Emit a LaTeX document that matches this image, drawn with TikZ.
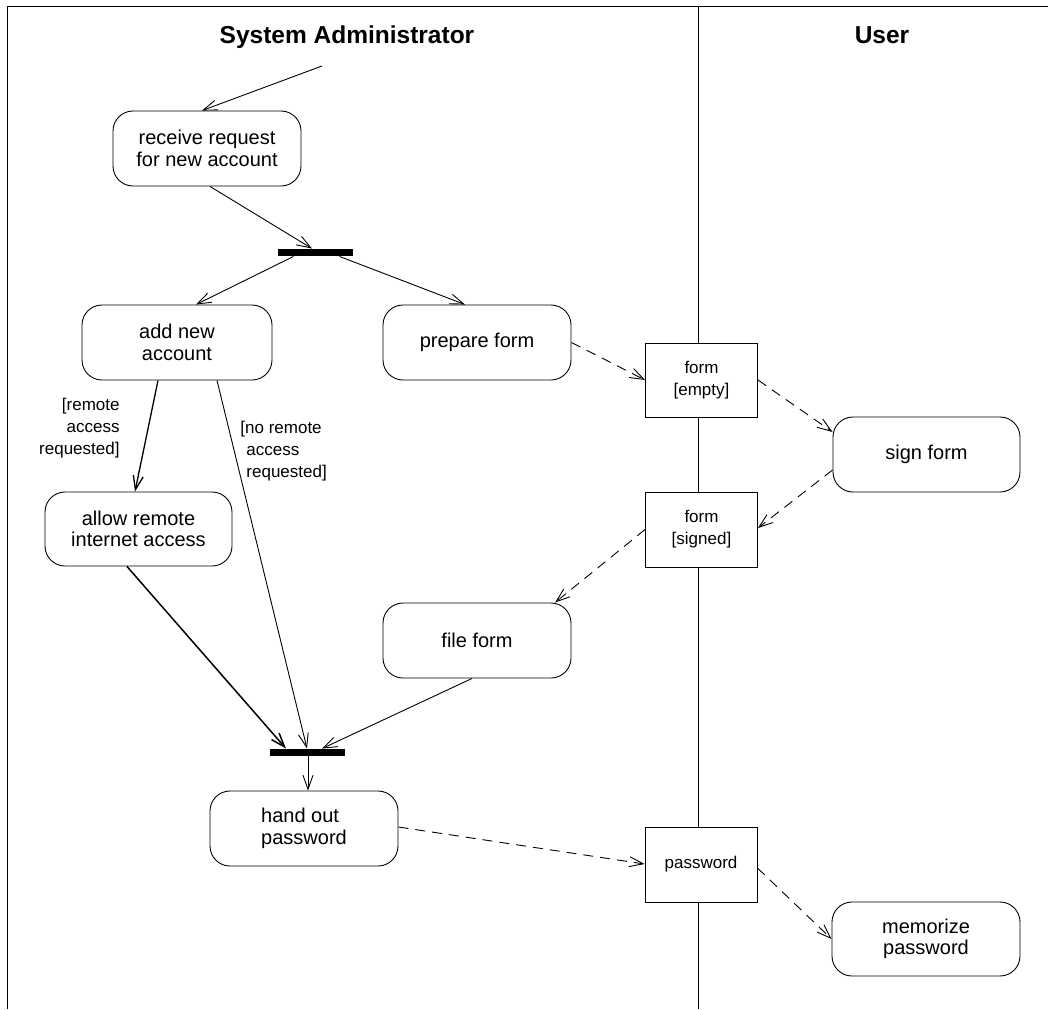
\documentclass[tikz,border=0pt]{standalone}
\usepackage{fontspec}
\setmainfont{Liberation Sans}
\usetikzlibrary{arrows.meta,calc}
\begin{document}
\begin{tikzpicture}[x=1pt,y=-1pt,
  line width=0.9pt,
  >={Straight Barb[length=14pt,width=10pt]},
  act/.style={draw,fill=white,rounded corners=20pt,inner sep=0pt,align=center,
    font=\fontsize{20}{21.5}\selectfont},
  obj/.style={draw,fill=white,inner sep=0pt,align=center,
    font=\fontsize{17}{22}\selectfont,minimum width=112pt,minimum height=74pt},
  bar/.style={fill=black,draw=none,inner sep=0pt,minimum width=75pt,minimum height=7pt},
  flow/.style={->,line width=0.9pt},
  dep/.style={->,line width=0.9pt,dash pattern=on 10pt off 7pt},
  guard/.style={inner sep=0pt,font=\fontsize{17}{22}\selectfont},
  title/.style={font=\fontsize{24.5}{28}\selectfont\bfseries,inner sep=0pt,anchor=base}]
\useasboundingbox (0,0) rectangle (1048,1009);
% swimlane frame
\draw (1048,6) -- (7,6) -- (7,1009);
\draw (698,6) -- (698,1009);
\node[title] (t1) at (347,43) {System Administrator};
\node[title] (t2) at (882,43.5) {User};

% nodes
\node[act,minimum width=188pt,minimum height=75pt] (receive) at (207,148.5) {receive request\\for new account};
\node[bar] (fork) at (315.5,252.5) {};
\node[act,minimum width=190pt,minimum height=75pt] (add) at (177,342.5) {add new\\account};
\node[act,minimum width=188pt,minimum height=75pt] (prep) at (477,342.5) {prepare form};
\node[obj,minimum height=74pt] (formE) at (701.5,380) {form\\{[empty]}};
\node[act,minimum width=187pt,minimum height=75pt] (sign) at (926.5,454.5) {sign form};
\node[obj,minimum height=75pt] (formS) at (701.5,529.5) {form\\{[signed]}};
\node[act,minimum width=187pt,minimum height=74pt] (allow) at (138.5,529) {allow remote\\internet access};
\node[act,minimum width=188pt,minimum height=75pt] (file) at (477,640.5) {file form};
\node[bar] (join) at (307.5,752.5) {};
\node[act,minimum width=188pt,minimum height=75pt,align=left] (hand) at (304,828.5) {hand out\\password};
\node[obj,minimum height=75pt] (pw) at (701,864.5) {password};
\node[act,minimum width=188pt,minimum height=74pt] (mem) at (926,939) {memorize\\password};

% guards
\node[guard,align=right,anchor=north east] (g1) at (120,397.5) {[remote\\access\\requested]};
\node[guard,align=left,anchor=north west] (g2) at (240,420.5) {[no remote\\\hspace{6pt}access\\\hspace{6pt}requested]};

% start
\coordinate (start) at (322,66);
\draw[flow] (start) -- ($(receive.north)+(-5,0)$);

% control flow
\draw[flow] ($(receive.south)+(3,0)$) -- ($(fork.north)+(-3.5,0)$);
\draw[flow] ($(fork.south)+(-22,0)$) -- ($(add.north)+(19,0)$);
\draw[flow] ($(fork.south)+(24,0)$) -- ($(prep.north)+(-12,0)$);
\draw[flow,line width=1.3pt] ($(add.south)+(-19,0)$) -- ($(allow.north)+(-3.5,0)$);
\draw[flow] ($(add.south)+(40,0)$) -- ($(join.north)+(-0.5,0)$);
\draw[flow,line width=1.5pt] ($(allow.south)+(-11.5,0)$) -- ($(join.north)+(-21.5,0)$);
\draw[flow] ($(file.south)+(-5,0)$) -- ($(join.north)+(14.5,0)$);
\draw[flow] ($(join.south)+(0.5,0)$) -- ($(hand.north)+(4,0)$);

% object flow
\draw[dep] (prep.east) -- (formE.west);
\draw[dep] (formE.east) -- ($(sign.west)+(0,-22.5)$);
\draw[dep] ($(sign.west)+(0,15.5)$) -- ($(formS.east)+(0,-1.5)$);
\draw[dep] (formS.west) -- ($(file.north)+(78,0)$);
\draw[dep] ($(hand.east)+(0,-1.5)$) -- ($(pw.west)+(0,-0.5)$);
\draw[dep] ($(pw.east)+(0,3.5)$) -- (mem.west);
\end{tikzpicture}
\end{document}
